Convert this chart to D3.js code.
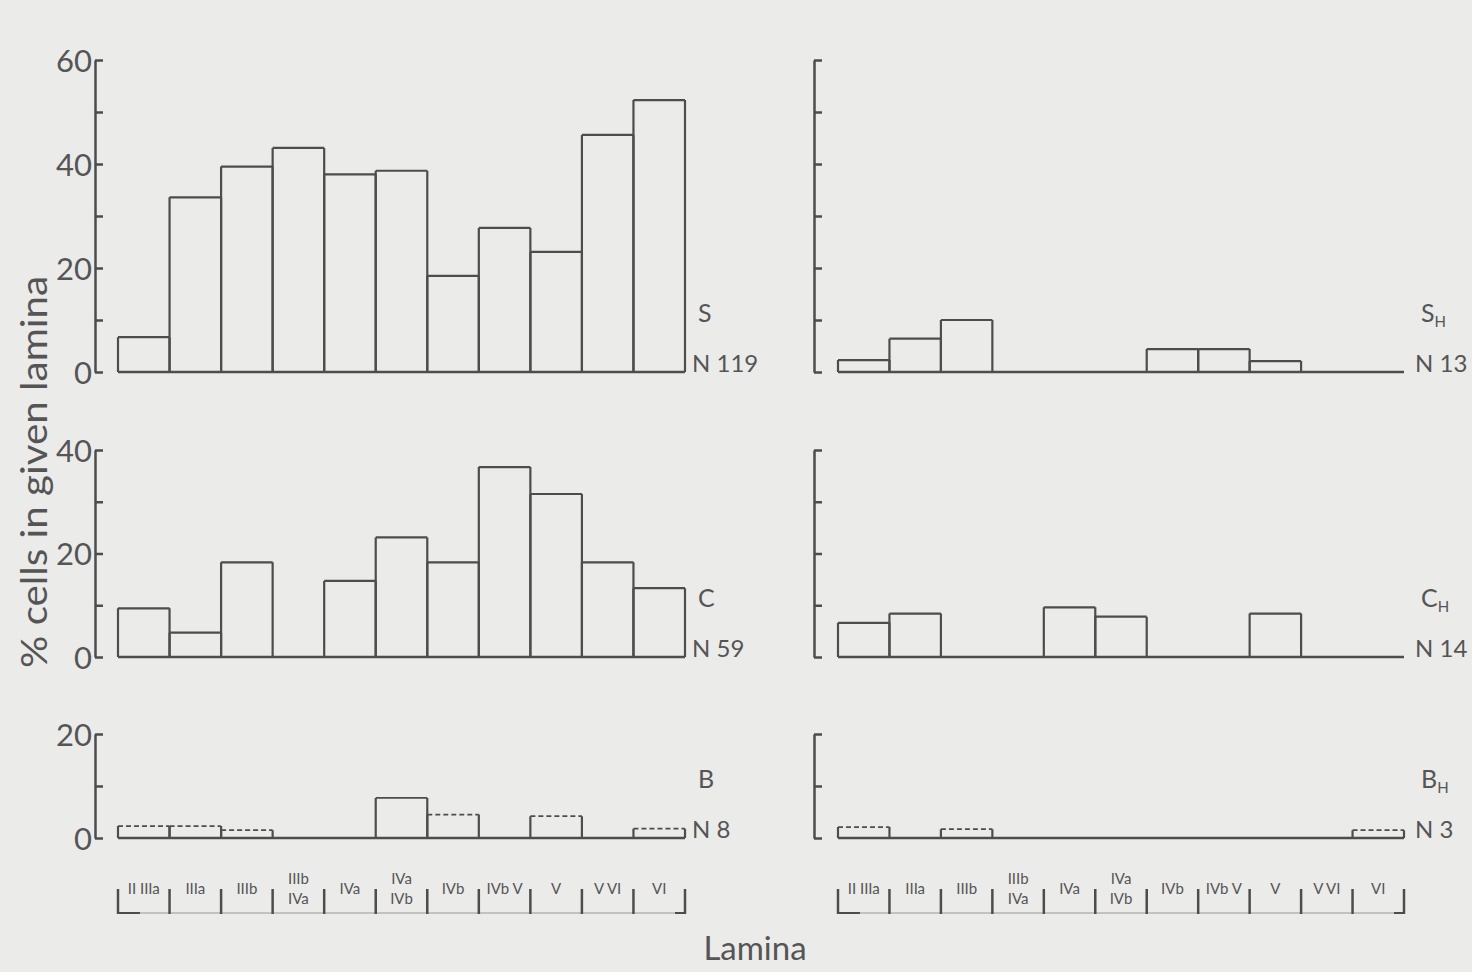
<!DOCTYPE html>
<html>
<head>
<meta charset="utf-8">
<script src="https://cdn.jsdelivr.net/npm/d3@7"></script>
<style>
  html, body { margin: 0; padding: 0; background: #ebebea; }
  svg { display: block; font-family: Lato, "Open Sans", sans-serif; }
</style>
</head>
<body>
<svg id="chart" width="1472" height="972"></svg>
<script>
// lamina categories (one per bar); "/" means the label is stacked on two lines
const lamina = ['II IIIa', 'IIIa', 'IIIb', 'IIIb/IVa', 'IVa', 'IVa/IVb', 'IVb', 'IVb V', 'V', 'V VI', 'VI'];

// % of cells in each lamina
const sValues  = [6.7, 33.6, 39.5, 43.1, 38.0, 38.7, 18.5, 27.7, 23.1, 45.6, 52.3];
const shValues = [2.3, 6.4, 10.0, 0, 0, 0, 4.4, 4.4, 2.1, 0, 0];
const cValues  = [9.4, 4.7, 18.3, 0, 14.7, 23.1, 18.3, 36.7, 31.5, 18.3, 13.3];
const chValues = [6.6, 8.4, 0, 0, 9.6, 7.8, 0, 0, 8.4, 0, 0];
const bValues  = [2.3, 2.3, 1.5, 0, 0, 7.7, 4.5, 0, 4.2, 0, 1.8];
const bhValues = [2.1, 0, 1.7, 0, 0, 0, 0, 0, 0, 0, 1.5];

// y axis extents and labelled ticks for each row
const rowMax = [60, 40, 20];
const rowTickLabels = [[0, 20, 40, 60], [0, 20, 40], [0, 20]];

const ink = '#4d4d4d';
const svg = d3.select('#chart');

const rows = [
  {top: 60, bottom: 372},
  {top: 450, bottom: 657},
  {top: 734, bottom: 838}
];
const cols = [
  {axisX: 95, x0: 118, x1: 685, labelled: true, textX: 692},
  {axisX: 814, x0: 838, x1: 1404, labelled: false, textX: 1415}
];

const panels = [
  {row: 0, col: 0, name: 'S', sub: '', n: 119, values: sValues},
  {row: 0, col: 1, name: 'S', sub: 'H', n: 13, values: shValues},
  {row: 1, col: 0, name: 'C', sub: '', n: 59, values: cValues},
  {row: 1, col: 1, name: 'C', sub: 'H', n: 14, values: chValues},
  {row: 2, col: 0, name: 'B', sub: '', n: 8, values: bValues, faint: true},
  {row: 2, col: 1, name: 'B', sub: 'H', n: 3, values: bhValues, faint: true}
];

panels.forEach(p => {
  const r = rows[p.row], c = cols[p.col];
  const x = d3.scaleBand().domain(lamina).range([c.x0, c.x1]).padding(0);
  const y = d3.scaleLinear().domain([0, rowMax[p.row]]).range([r.bottom, r.top]);
  const g = svg.append('g');

  // y axis with inward ticks every 10
  const axis = d3.axisLeft(y)
    .tickValues(d3.range(0, rowMax[p.row] + 1, 10))
    .tickSizeInner(-8).tickSizeOuter(0).tickPadding(3)
    .tickFormat(d => c.labelled && rowTickLabels[p.row].includes(d) ? d : '');
  const ag = g.append('g').attr('transform', `translate(${c.axisX},0)`).call(axis);
  ag.select('.domain').attr('stroke', ink).attr('stroke-width', 2.5);
  ag.selectAll('.tick line').attr('stroke', ink).attr('stroke-width', 2.5);
  ag.selectAll('.tick text')
    .attr('fill', '#555').attr('font-size', 31).attr('dy', '0.36em')
    .attr('font-family', 'Lato, sans-serif');

  // bars as open outlines (sides + top)
  const bars = lamina.map((l, i) => ({l, v: p.values[i]})).filter(d => d.v > 0);
  g.selectAll('path.side')
    .data(bars)
    .join('path')
    .attr('class', 'side')
    .attr('d', d => `M${x(d.l)},${y(0)}V${y(d.v)}M${x(d.l) + x.bandwidth()},${y(0)}V${y(d.v)}`)
    .attr('fill', 'none').attr('stroke', ink).attr('stroke-width', 2.2);
  g.selectAll('line.top')
    .data(bars)
    .join('line')
    .attr('class', 'top')
    .attr('x1', d => x(d.l)).attr('x2', d => x(d.l) + x.bandwidth())
    .attr('y1', d => y(d.v)).attr('y2', d => y(d.v))
    .attr('stroke', ink)
    .attr('stroke-width', p.faint ? 1.8 : 2.2)
    .attr('stroke-dasharray', d => p.faint && d.v < 5 ? '5,3' : null);

  // baseline
  g.append('line')
    .attr('x1', c.x0).attr('x2', c.x1)
    .attr('y1', y(0)).attr('y2', y(0))
    .attr('stroke', ink).attr('stroke-width', 2.5);

  // series label and N
  const name = g.append('text')
    .attr('x', c.textX + 6).attr('y', y(0) - 50)
    .attr('fill', '#555').attr('font-size', 25)
    .text(p.name);
  if (p.sub) name.append('tspan').attr('font-size', 15).attr('dy', 5).text(p.sub);
  g.append('text')
    .attr('x', c.textX).attr('y', y(0))
    .attr('fill', '#555').attr('font-size', 24)
    .text('N ' + p.n);
});

// lamina bracket rows below the bottom panels
cols.forEach(c => {
  const x = d3.scaleBand().domain(lamina).range([c.x0, c.x1]).padding(0);
  const g = svg.append('g');
  const edges = lamina.map(l => x(l)).concat([c.x1]);
  g.append('line')
    .attr('x1', c.x0).attr('x2', c.x1).attr('y1', 913).attr('y2', 913)
    .attr('stroke', '#9a9a9a').attr('stroke-width', 1.2);
  g.selectAll('line.tick')
    .data(edges)
    .join('line')
    .attr('class', 'tick')
    .attr('x1', d => d).attr('x2', d => d)
    .attr('y1', 889).attr('y2', 914)
    .attr('stroke', ink).attr('stroke-width', 2.5);
  g.append('path')
    .attr('d', `M${c.x0},913H${c.x0 + 22}M${c.x1},913H${c.x1 - 10}`)
    .attr('stroke', ink).attr('stroke-width', 2);
  lamina.forEach(l => {
    const parts = l.split('/');
    const cx = x(l) + x.bandwidth() / 2;
    parts.forEach((t, j) => {
      g.append('text')
        .attr('x', cx)
        .attr('y', parts.length > 1 ? 884 + j * 20 : 894)
        .attr('text-anchor', 'middle')
        .attr('fill', '#555').attr('font-size', 15)
        .text(t);
    });
  });
});

// axis titles
svg.append('text')
  .attr('transform', 'translate(47,472) rotate(-90)')
  .attr('text-anchor', 'middle')
  .attr('fill', '#555').attr('font-size', 36)
  .attr('textLength', 392).attr('lengthAdjust', 'spacingAndGlyphs')
  .text('% cells in given lamina');

svg.append('text')
  .attr('x', 755).attr('y', 960)
  .attr('text-anchor', 'middle')
  .attr('fill', '#555').attr('font-size', 33)
  .text('Lamina');
</script>
</body>
</html>
